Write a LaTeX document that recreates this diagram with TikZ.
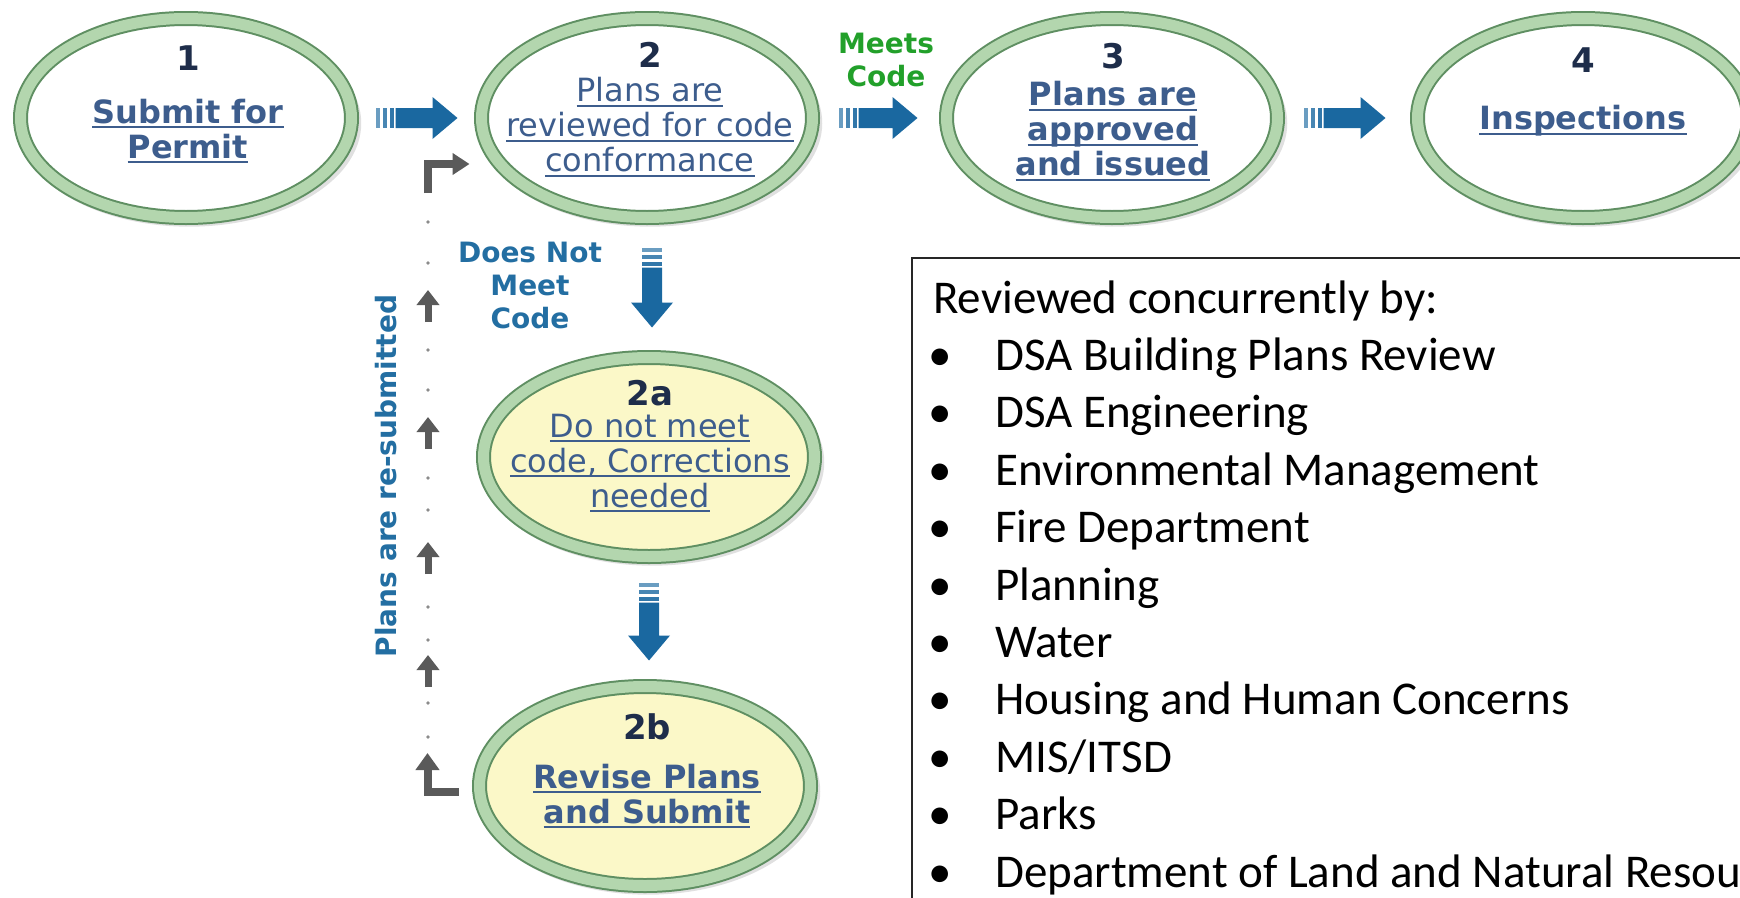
\documentclass[tikz,border=0pt]{standalone}
\usepackage{fontspec}
\usetikzlibrary{shapes.geometric,calc,arrows.meta,shadows}
\newfontfamily\vfont{DejaVu Sans}
\newfontfamily\cfont{Carlito}
\definecolor{ringdark}{HTML}{5F8F62}
\definecolor{ringlight}{HTML}{B3D6AE}
\definecolor{stageyellow}{HTML}{FBF8C8}
\definecolor{stagetext}{HTML}{3D5D8D}
\definecolor{numnavy}{HTML}{1E2D4A}
\definecolor{arrowblue}{HTML}{1A68A0}
\definecolor{lblblue}{HTML}{236EA2}
\definecolor{meetgreen}{HTML}{22A02A}
\definecolor{resubgray}{HTML}{5A5A5A}
\newcommand\myul[1]{\setbox0\hbox{#1}\rlap{\rule[-5pt]{\wd0}{1.8pt}}\box0}
\newcommand\fatarrow[3]{%
  \begin{scope}[shift={#1},rotate=#2]
    \fill[arrowblue!65] (0,-10) rectangle (4,10);
    \fill[arrowblue!80] (7,-10) rectangle (11,10);
    \fill[arrowblue!90] (14,-10) rectangle (18,10);
    \fill[arrowblue] (20,-10) -- ({#3-25},-10) -- ({#3-25},-21) -- (#3,0)
      -- ({#3-25},21) -- ({#3-25},10) -- (20,10) -- cycle;
  \end{scope}}
\begin{document}
\begin{tikzpicture}[x=1pt,y=-1pt,
  stage/.style={ellipse, draw=ringdark, double=ringlight, double distance=11pt,
    line width=2pt, minimum width=331pt, minimum height=199pt, inner sep=0pt, fill=white,
    drop shadow={shadow xshift=3pt, shadow yshift=-5pt, shadow scale=1.04, opacity=0.12, fill=black}},
  num/.style={font=\vfont\bfseries\fontsize{34}{40}\selectfont, text=numnavy, inner sep=0pt},
  stxtb/.style={font=\vfont\bfseries\fontsize{32}{35}\selectfont, text=stagetext, align=center, inner sep=0pt},
  stxtr/.style={font=\vfont\fontsize{32}{35}\selectfont, text=stagetext, align=center, inner sep=0pt},
  lbl/.style={font=\vfont\bfseries\fontsize{28}{33}\selectfont, align=center, inner sep=0pt},
  listtxt/.style={font=\cfont\fontsize{47}{56}\selectfont, inner sep=0pt, anchor=base west},
  bullet/.style={font=\cfont\fontsize{47}{56}\selectfont, inner sep=0pt, anchor=base},
  resub/.style={resubgray, line width=8pt},
  smallup/.style={resubgray, line width=7pt, -{Triangle[width=22pt,length=15pt]}}
]
\clip (0,0) rectangle (1740,897);
\fill[white] (0,0) rectangle (1740,897);

% stages
\node[stage] (e1) at (186,118) {};
\node[stage] (e2) at (647,118) {};
\node[stage] (e3) at (1112,118) {};
\node[stage] (e4) at (1583,118) {};
\node[stage, fill=stageyellow] (e2a) at (649,457) {};
\node[stage, fill=stageyellow] (e2b) at (645,786) {};

% numbers
\node[num] (n1) at (188,58) {1};
\node[num] (n2) at (650,55) {2};
\node[num] (n3) at (1113,56) {3};
\node[num] (n4) at (1583,60) {4};
\node[num] (n2a) at (650,393) {2a};
\node[num] (n2b) at (647,727) {2b};

% stage texts
\node[stxtb] (t1) at (188,131) {\myul{Submit for}\\\myul{Permit}};
\node[stxtr] (t2) at (650,127) {\myul{Plans are}\\\myul{reviewed for code}\\\myul{conformance}};
\node[stxtb] (t3) at (1113,131) {\myul{Plans are}\\\myul{approved}\\\myul{and issued}};
\node[stxtb] (t4) at (1583,121) {\myul{Inspections}};
\node[stxtr] (t2a) at (650,463) {\myul{Do not meet}\\\myul{code, Corrections}\\\myul{needed}};
\node[stxtb] (t2b) at (647,796) {\myul{Revise Plans}\\\myul{and Submit}};

% blue arrows
\fatarrow{($(e1.east)+(23,0)$)}{0}{82}
\fatarrow{($(e2.east)+(25,0)$)}{0}{79}
\fatarrow{($(e3.east)+(25,0)$)}{0}{82}
\fatarrow{($(e2.south)+(5,29)$)}{-90}{80}
\fatarrow{($(e2a.south)+(0,25)$)}{-90}{78}

% labels
\node[lbl, text=meetgreen] (meets) at (886,60) {Meets\\Code};
\node[lbl, text=lblblue] (dnm) at (530,285) {Does Not\\Meet\\Code};
\node[lbl, text=lblblue, rotate=90] (resubtxt) at (386,476) {Plans are re-submitted};

% resubmission path
\coordinate (rsA) at ($(e2b.west)+(-20,6)$);
\coordinate (rsB) at ($(rsA)+(-31,0)$);
\coordinate (rsC) at (428,193);
\coordinate (rsD) at ($(e2.west)+(-11,46)$);
\draw[resub, line join=miter, -{Triangle[width=23pt,length=17pt]}] (rsA) -- (rsB) -- ($(rsB)+(0,-39)$);
\draw[resub, line join=miter, -{Triangle[width=21pt,length=17pt]}] (rsC) -- (rsC |- rsD) -- (rsD);
\foreach \ty in {290,417,542,655}
  \draw[smallup] (428,\ty+32) -- (428,\ty);
\foreach \dy in {222,263,350,390,478,510,607,640,703,737}
  \fill[resubgray!70] (428,\dy) circle (1.8);

% reviewers box
\draw[line width=2pt, black!85] (912,258) rectangle (1780,940);
\node[listtxt] (hdr) at (933,313) {Reviewed concurrently by:};
\foreach \i/\t in {1/{DSA Building Plans Review}, 2/{DSA Engineering}, 3/{Environmental Management},
  4/{Fire Department}, 5/{Planning}, 6/{Water}, 7/{Housing and Human Concerns}, 8/{MIS/ITSD},
  9/{Parks}, 10/{Department of Land and Natural Resources}}{
  \node[bullet] (b\i) at (940,{313+57.4*\i}) {•};
  \node[listtxt] (l\i) at (995,{313+57.4*\i}) {\t};
}
\end{tikzpicture}
\end{document}
